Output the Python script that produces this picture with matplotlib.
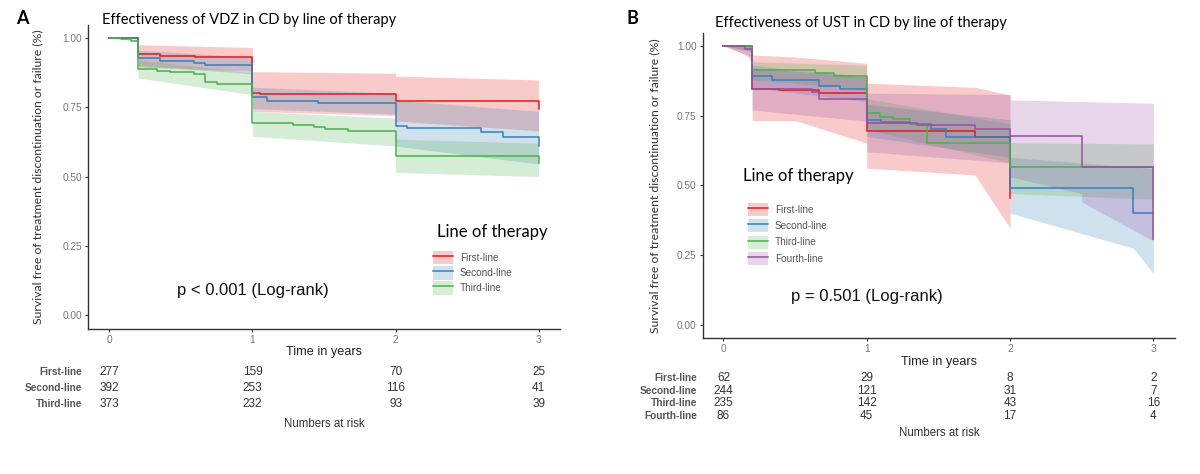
import matplotlib
matplotlib.use("Agg")
import matplotlib.pyplot as plt
from matplotlib.patches import Patch
from matplotlib.lines import Line2D
from matplotlib.transforms import blended_transform_factory

plt.rcParams["font.family"] = ["Liberation Sans", "DejaVu Sans"]

FIG_W, FIG_H = 1200, 474

RED = "#E41A1C"
BLUE = "#377EB8"
GREEN = "#4DAF4A"
PURPLE = "#984EA3"

# ---- Panel A: VDZ, step curves (years, survival) ----
A_FIRST_T = [0, 0.2, 0.35, 0.6, 1.0, 1.05, 2.0, 3.0]
A_FIRST_S = [1.0, 0.94, 0.935, 0.93, 0.80, 0.798, 0.772, 0.742]
A_SECOND_T = [0, 0.2, 0.35, 0.59, 0.67, 1.0, 1.1, 1.46, 2.0, 2.08, 2.6, 2.75, 3.0]
A_SECOND_S = [1.0, 0.928, 0.918, 0.91, 0.901, 0.785, 0.772, 0.764, 0.682, 0.676, 0.662, 0.644, 0.61]
A_THIRD_T = [0, 0.08, 0.15, 0.2, 0.33, 0.42, 0.59, 0.67, 0.75, 1.0, 1.28, 1.43, 1.51, 1.67, 2.0, 3.0]
A_THIRD_S = [1.0, 0.996, 0.99, 0.886, 0.88, 0.875, 0.869, 0.841, 0.835, 0.692, 0.686, 0.68, 0.672, 0.665, 0.574, 0.548]

# confidence bands
A_CI_T = [0, 0.2, 0.2, 1.0, 1.0, 2.0, 2.0, 3.0]
A_FIRST_LO = [1.0, 1.0, 0.895, 0.88, 0.735, 0.72, 0.70, 0.665]
A_FIRST_HI = [1.0, 1.0, 0.975, 0.965, 0.878, 0.872, 0.862, 0.848]
A_SECOND_LO = [1.0, 1.0, 0.90, 0.87, 0.745, 0.725, 0.61, 0.545]
A_SECOND_HI = [1.0, 1.0, 0.955, 0.93, 0.822, 0.80, 0.775, 0.735]
A_THIRD_LO = [1.0, 0.985, 0.855, 0.795, 0.645, 0.61, 0.515, 0.50]
A_THIRD_HI = [1.0, 1.0, 0.92, 0.875, 0.735, 0.71, 0.635, 0.62]

# ---- Panel B: UST ----
B_FIRST_T = [0, 0.2, 0.39, 0.67, 1.0, 1.755, 2.0]
B_FIRST_S = [1.0, 0.844, 0.84, 0.83, 0.696, 0.674, 0.453]
B_SECOND_T = [0, 0.2, 0.34, 0.67, 0.81, 1.0, 1.1, 1.3, 1.45, 1.55, 2.0, 2.86, 3.0]
B_SECOND_S = [1.0, 0.89, 0.878, 0.856, 0.844, 0.734, 0.728, 0.72, 0.70, 0.672, 0.491, 0.402, 0.402]
B_THIRD_T = [0, 0.2, 0.64, 0.77, 1.0, 1.09, 1.18, 1.3, 1.42, 2.0, 3.0]
B_THIRD_S = [1.0, 0.914, 0.904, 0.89, 0.758, 0.744, 0.737, 0.72, 0.651, 0.567, 0.567]
B_FOURTH_T = [0, 0.15, 0.2, 0.62, 0.67, 1.0, 1.35, 1.755, 2.0, 2.5, 3.0]
B_FOURTH_S = [1.0, 0.99, 0.844, 0.836, 0.808, 0.722, 0.715, 0.702, 0.677, 0.567, 0.306]

B_FIRST_CI_T = [0, 0.2, 0.2, 0.5, 1.0, 1.0, 1.755, 2.0]
B_FIRST_LO = [1.0, 0.96, 0.732, 0.732, 0.651, 0.561, 0.537, 0.346]
B_FIRST_HI = [1.0, 1.0, 0.967, 0.96, 0.937, 0.866, 0.851, 0.824]
B_SECOND_CI_T = [0, 0.2, 0.2, 1.0, 1.0, 2.0, 2.0, 2.86, 3.0]
B_SECOND_LO = [1.0, 0.98, 0.85, 0.80, 0.675, 0.60, 0.40, 0.274, 0.184]
B_SECOND_HI = [1.0, 1.0, 0.93, 0.89, 0.79, 0.735, 0.60, 0.565, 0.56]
B_THIRD_CI_T = [0, 0.2, 0.2, 1.0, 1.0, 2.0, 2.0, 3.0]
B_THIRD_LO = [1.0, 0.98, 0.878, 0.845, 0.70, 0.58, 0.47, 0.45]
B_THIRD_HI = [1.0, 1.0, 0.943, 0.93, 0.81, 0.72, 0.653, 0.648]
B_FOURTH_CI_T = [0, 0.15, 0.2, 0.2, 1.0, 1.0, 2.0, 2.0, 2.5, 2.5, 3.0]
B_FOURTH_LO = [1.0, 0.97, 0.94, 0.77, 0.73, 0.62, 0.58, 0.53, 0.47, 0.44, 0.30]
B_FOURTH_HI = [1.0, 1.0, 1.0, 0.92, 0.89, 0.83, 0.825, 0.806, 0.80, 0.80, 0.794]

# ---- numbers at risk ----
RISK_TIMES = [0, 1, 2, 3]
A_GROUPS = ["First-line", "Second-line", "Third-line"]
A_RISK = [[277, 159, 70, 25], [392, 253, 116, 41], [373, 232, 93, 39]]
B_GROUPS = ["First-line", "Second-line", "Third-line", "Fourth-line"]
B_RISK = [[62, 29, 8, 2], [244, 121, 31, 7], [235, 142, 43, 16], [86, 45, 17, 4]]

X_TICKS = [0, 1, 2, 3]
Y_TICKS = [0.0, 0.25, 0.5, 0.75, 1.0]


def fx(x):
    return x / FIG_W


def fy(y):
    return 1 - y / FIG_H


def make_axes(fig, left, top, right, bottom, xlim, ylim):
    ax = fig.add_axes([fx(left), fy(bottom), (right - left) / FIG_W, (bottom - top) / FIG_H])
    ax.set_xlim(*xlim)
    ax.set_ylim(*ylim)
    ax.spines["top"].set_visible(False)
    ax.spines["right"].set_visible(False)
    for side in ["left", "bottom"]:
        ax.spines[side].set_color("#333333")
        ax.spines[side].set_linewidth(1.0)
    ax.set_xticks(X_TICKS)
    ax.set_yticks(Y_TICKS)
    ax.set_yticklabels([f"{v:.2f}" for v in Y_TICKS])
    ax.tick_params(axis="both", length=2.5, width=0.8, color="#333333",
                   labelsize=7.3, labelcolor="#777777", pad=2)
    return ax


def draw_curves(ax, curves):
    # bands first, lines on top
    for t, s, ci_t, lo, hi, color in curves:
        ax.fill_between(ci_t, lo, hi, color=color, alpha=0.23, lw=0)
    for t, s, ci_t, lo, hi, color in curves:
        ax.step(t, s, where="post", color=color, lw=1.1)


def add_legend(fig, ax, labels, colors, anchor, title_xy, handleheight, labelspacing):
    handles = [(Patch(facecolor=c, alpha=0.23, lw=0), Line2D([], [], color=c, lw=1.1))
               for c in colors]
    leg = ax.legend(handles, labels, loc="upper left",
                    bbox_to_anchor=(fx(anchor[0]), fy(anchor[1])),
                    bbox_transform=fig.transFigure, frameon=False,
                    borderpad=0, borderaxespad=0, handlelength=1.95,
                    handleheight=handleheight, labelspacing=labelspacing,
                    handletextpad=0.75, prop={"family": "Liberation Sans", "size": 7.2})
    for txt in leg.get_texts():
        txt.set_color("#555555")
    fig.text(fx(title_xy[0]), fy(title_xy[1]), "Line of therapy",
             family="Lato", size=12, ha="left", va="center")


def add_risk_table(fig, ax, groups, counts, row_ys, label_right, footer_y):
    trans = blended_transform_factory(ax.transData, fig.transFigure)
    for name, row, y in zip(groups, counts, row_ys):
        fig.text(fx(label_right), fy(y), name, ha="right", va="center",
                 weight="bold", size=7.3, color="#555555")
        for t, n in zip(RISK_TIMES, row):
            ax.text(t, fy(y), str(n), transform=trans, ha="center", va="center",
                    size=8.5, color="#333333", clip_on=False)
    ax.text(0.5, fy(footer_y), "Numbers at risk",
            transform=blended_transform_factory(ax.transAxes, fig.transFigure),
            ha="center", va="center", size=8.3, color="#333333")


def finish_labels(fig, ax, xlabel_y, ylabel_x):
    ax.set_xlabel("Time in years", size=9.2, color="#222222", va="center")
    ax.xaxis.set_label_coords(0.5, fy(xlabel_y),
                              transform=blended_transform_factory(ax.transAxes, fig.transFigure))
    ax.set_ylabel("Survival free of treatment discontinuation or failure (%)",
                  family="Lato", size=8.8, color="#333333", va="center")
    ax.yaxis.set_label_coords(fx(ylabel_x), 0.5,
                              transform=blended_transform_factory(fig.transFigure, ax.transAxes))


fig = plt.figure(figsize=(FIG_W / 100, FIG_H / 100), dpi=100)

# ---------------- panel A ----------------
ax_a = make_axes(fig, 88.3, 25, 560, 329, (-0.148, 3.15), (-0.049, 1.046))
draw_curves(ax_a, [
    (A_FIRST_T, A_FIRST_S, A_CI_T, A_FIRST_LO, A_FIRST_HI, RED),
    (A_SECOND_T, A_SECOND_S, A_CI_T, A_SECOND_LO, A_SECOND_HI, BLUE),
    (A_THIRD_T, A_THIRD_S, A_CI_T, A_THIRD_LO, A_THIRD_HI, GREEN),
])
add_legend(fig, ax_a, A_GROUPS, [RED, BLUE, GREEN], (433, 250.5), (437, 232), 1.75, 0.15)
ax_a.text(1.0, 0.09, "p < 0.001 (Log-rank)", ha="center", va="center", size=12, color="#111111")
finish_labels(fig, ax_a, 352, 38)
add_risk_table(fig, ax_a, A_GROUPS, A_RISK, [372, 388, 404], 82, 424)
fig.text(fx(102), fy(20), "Effectiveness of VDZ in CD by line of therapy",
         family="Lato", size=10.5, ha="left", va="center")
fig.text(fx(16), fy(19), "A", family="Lato", weight="bold", size=13, ha="left", va="center")

# ---------------- panel B ----------------
ax_b = make_axes(fig, 702.7, 33, 1175, 338, (-0.145, 3.151), (-0.048, 1.046))
draw_curves(ax_b, [
    (B_FIRST_T, B_FIRST_S, B_FIRST_CI_T, B_FIRST_LO, B_FIRST_HI, RED),
    (B_SECOND_T, B_SECOND_S, B_SECOND_CI_T, B_SECOND_LO, B_SECOND_HI, BLUE),
    (B_THIRD_T, B_THIRD_S, B_THIRD_CI_T, B_THIRD_LO, B_THIRD_HI, GREEN),
    (B_FOURTH_T, B_FOURTH_S, B_FOURTH_CI_T, B_FOURTH_LO, B_FOURTH_HI, PURPLE),
])
add_legend(fig, ax_b, B_GROUPS, [RED, BLUE, GREEN, PURPLE], (748, 203), (743, 176), 1.6, 0.35)
ax_b.text(1.0, 0.10, "p = 0.501 (Log-rank)", ha="center", va="center", size=12, color="#111111")
finish_labels(fig, ax_b, 362, 655)
add_risk_table(fig, ax_b, B_GROUPS, B_RISK, [378, 391, 403, 416], 697, 433)
fig.text(fx(715), fy(23), "Effectiveness of UST in CD by line of therapy",
         family="Lato", size=10.5, ha="left", va="center")
fig.text(fx(627), fy(19), "B", family="Lato", weight="bold", size=13, ha="left", va="center")

fig.savefig("out.png", dpi=100)
